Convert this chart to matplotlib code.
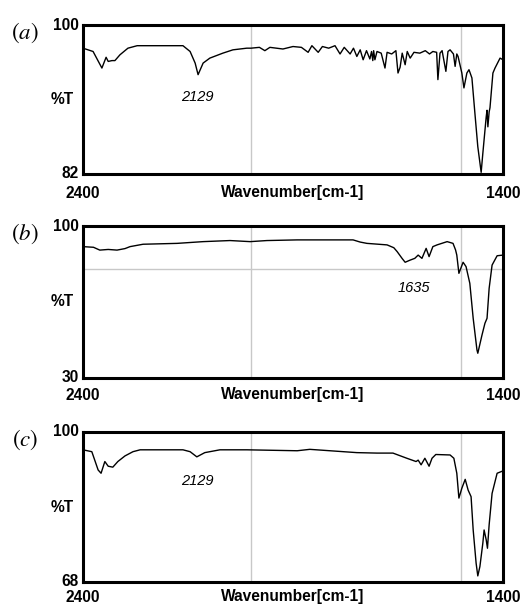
import matplotlib.pyplot as plt
from matplotlib import transforms

plt.rcParams['mathtext.fontset'] = 'stix'

# Spectrum (a)
wn_a = [2400, 2376, 2355, 2345, 2340, 2331, 2324, 2312, 2293, 2271, 2162, 2145, 2133, 2126,
        2114, 2098, 2067, 2043, 2010, 2000, 1980, 1967, 1955, 1924, 1900, 1880, 1864, 1855,
        1840, 1830, 1815, 1800, 1788, 1778, 1764, 1756, 1748, 1740, 1733, 1725, 1717, 1713,
        1710, 1708, 1705, 1700, 1690, 1681, 1676, 1665, 1655, 1650, 1645, 1640, 1633, 1628,
        1621, 1612, 1598, 1585, 1575, 1567, 1558, 1555, 1550, 1545, 1536, 1531, 1526, 1518,
        1514, 1510, 1507, 1498, 1493, 1486, 1481, 1474, 1467, 1460, 1452, 1448, 1440, 1438,
        1436, 1433, 1431, 1424, 1419, 1407, 1400]
t_a = [97.2, 96.8, 94.8, 96.1, 95.6, 95.7, 95.7, 96.4, 97.2, 97.5, 97.5, 96.8, 95.4, 94.0,
       95.4, 96.0, 96.6, 97.0, 97.2, 97.2, 97.3, 96.9, 97.3, 97.1, 97.4, 97.3, 96.7, 97.5,
       96.7, 97.4, 97.2, 97.5, 96.5, 97.3, 96.5, 97.2, 96.2, 97.0, 95.8, 96.9, 95.9, 96.8,
       95.7, 96.9, 95.8, 96.8, 96.6, 94.8, 96.7, 96.5, 96.9, 94.2, 94.9, 96.6, 95.2, 96.8,
       96.0, 96.7, 96.6, 96.9, 96.5, 96.8, 96.7, 93.4, 96.6, 96.9, 94.4, 96.8, 97.0, 96.5,
       95.0, 96.5, 96.2, 94.2, 92.4, 94.2, 94.6, 93.6, 89.4, 85.3, 82.2, 84.5, 88.9, 89.7,
       87.7, 89.5, 90.0, 94.2, 94.8, 96.0, 95.8]

# Spectrum (b)
wn_b = [2400, 2375, 2360, 2340, 2319, 2300, 2288, 2257, 2176, 2114, 2050, 2002, 1962, 1890,
        1757, 1740, 1724, 1676, 1660, 1652, 1640, 1633, 1621, 1610, 1602, 1593, 1583, 1576,
        1567, 1557, 1533, 1519, 1513, 1510, 1505, 1495, 1488, 1479, 1471, 1462, 1460, 1450,
        1443, 1438, 1433, 1426, 1414, 1400]
t_b = [90.5, 90.2, 88.9, 89.2, 88.9, 89.6, 90.5, 91.6, 92.0, 92.8, 93.3, 92.8, 93.3, 93.6,
       93.6, 92.6, 92.0, 91.3, 90.0, 88.2, 85.0, 83.3, 84.3, 85.1, 86.6, 85.1, 89.7, 85.9,
       90.5, 91.3, 92.8, 92.0, 89.0, 86.6, 78.2, 83.3, 81.3, 73.6, 57.5, 42.9, 41.4, 49.8,
       55.2, 57.5, 71.3, 82.0, 86.3, 86.6]

# Spectrum (c)
wn_c = [2400, 2379, 2364, 2357, 2348, 2340, 2329, 2317, 2300, 2281, 2264, 2162, 2145, 2129,
        2110, 2074, 2010, 1890, 1860, 1748, 1700, 1662, 1629, 1607, 1602, 1595, 1586, 1576,
        1569, 1560, 1526, 1517, 1510, 1505, 1498, 1490, 1483, 1476, 1471, 1464, 1460, 1455,
        1448, 1445, 1440, 1437, 1433, 1426, 1414, 1400]
t_c = [96.2, 95.8, 91.9, 91.2, 93.7, 92.7, 92.5, 93.7, 94.9, 95.8, 96.2, 96.2, 95.8, 94.7,
       95.6, 96.2, 96.2, 96.0, 96.3, 95.6, 95.5, 95.5, 94.4, 93.7, 94.0, 93.0, 94.4, 92.7,
       94.4, 95.2, 95.1, 94.4, 91.2, 85.9, 88.0, 89.9, 87.6, 86.2, 79.1, 72.0, 69.3, 71.3,
       76.3, 79.1, 77.0, 75.2, 80.2, 86.9, 91.2, 91.7]

panels = ['a', 'b', 'c']
y_min = [82, 30, 68]
peak_labels = ['2129', '1635', '2129']
peak_pos = [(2127, 91.3), (1612, 71.5), (2127, 89.5)]
v_grid = [2000, 1500]
h_grid = [None, 80, None]

fig = plt.figure(figsize=(5.24, 6.07), dpi=100)
boxes = [(25, 174), (226, 378), (432, 582)]
label_drop = [19, 17, 15]
series = [(wn_a, t_a), (wn_b, t_b), (wn_c, t_c)]

tick_font = dict(family='Liberation Sans', weight='bold', fontsize=11.2)

for i in range(3):
    top, bot = boxes[i]
    ax = fig.add_axes([83 / 524, 1 - bot / 607, 420 / 524, (bot - top) / 607])
    x, y = series[i]
    ax.plot(x, y, color='black', linewidth=1.0)
    ax.set_xlim(2400, 1400)
    ax.set_ylim(y_min[i], 100)
    for g in v_grid:
        ax.axvline(g, color='#c8c8c8', linewidth=1.0, zorder=0)
    if h_grid[i] is not None:
        ax.axhline(h_grid[i], color='#c8c8c8', linewidth=1.0, zorder=0)
    ax.set_xticks([])
    ax.set_yticks([])
    for s in ax.spines.values():
        s.set_linewidth(2.2)

    # axis texts drawn by hand, like the instrument printout
    below = transforms.offset_copy(ax.transAxes, fig=fig, x=0, y=-label_drop[i], units='dots')
    ax.text(0, 0, '2400', transform=below, ha='center', va='center', **tick_font)
    ax.text(0.5, 0, 'Wavenumber[cm-1]', transform=below, ha='center', va='center', **tick_font)
    ax.text(1, 0, '1400', transform=below, ha='center', va='center', **tick_font)
    left = transforms.offset_copy(ax.transAxes, fig=fig, x=-4, y=0, units='dots')
    ax.text(0, 1, '100', transform=left, ha='right', va='center', **tick_font)
    ax.text(0, 0, str(y_min[i]), transform=left, ha='right', va='center', **tick_font)
    ax.text(-0.05, 0.5, '%T', transform=ax.transAxes, ha='center', va='center', **tick_font)

    ax.text(peak_pos[i][0], peak_pos[i][1], peak_labels[i], ha='center', va='center',
            family='Liberation Sans', style='italic', fontsize=10.5)
    ax.text(-0.138, 0.95, r'$(\mathit{' + panels[i] + '})$', transform=ax.transAxes,
            ha='center', va='center', fontsize=16.5)

fig.savefig('out.png', dpi=100)
